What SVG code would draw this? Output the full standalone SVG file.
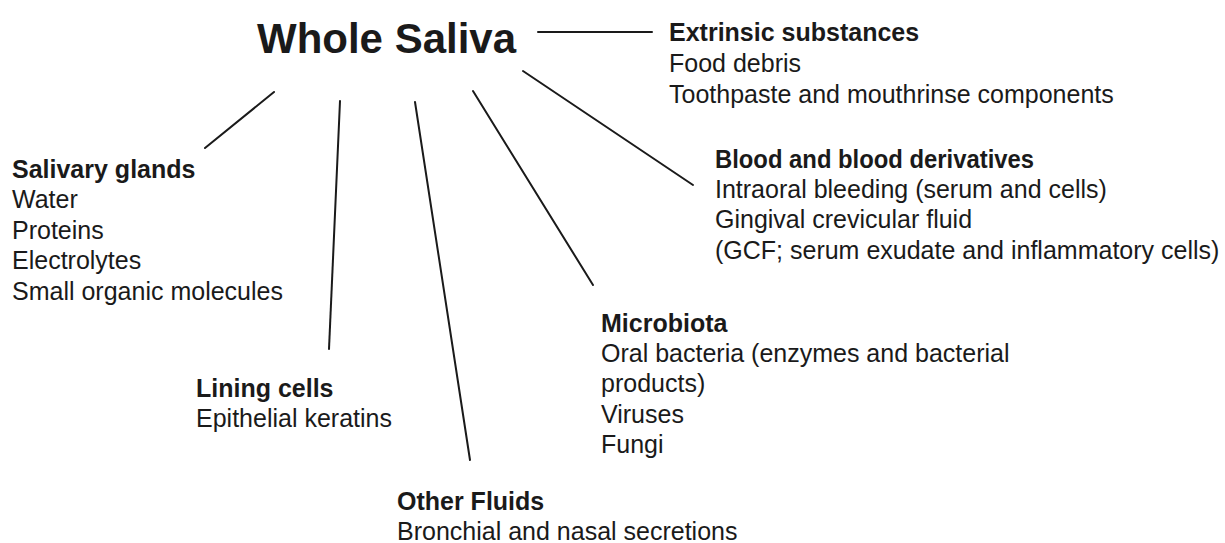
<svg xmlns="http://www.w3.org/2000/svg" width="1225" height="543" viewBox="0 0 1225 543">
<style>
text{font-family:"Liberation Sans",Arial,sans-serif;fill:#1a1a1a;font-size:25px}
.h{font-weight:bold}
.t{font-size:42px;font-weight:bold}
.c line{stroke:#1a1a1a;stroke-width:2;stroke-linecap:round}
</style>
<rect width="1225" height="543" fill="#fff"/>
<g id="whole-saliva"><text class="t" x="257" y="53">Whole Saliva</text></g>
<g class="c" id="connectors">
<line x1="538" y1="32" x2="652" y2="32"/>
<line x1="274" y1="92" x2="205" y2="148"/>
<line x1="340" y1="101" x2="329" y2="349"/>
<line x1="415" y1="102" x2="470" y2="460"/>
<line x1="473" y1="91" x2="593" y2="285"/>
<line x1="523" y1="71" x2="693" y2="185"/>
</g>
<g id="extrinsic">
<text class="h" x="669" y="41">Extrinsic substances</text>
<text x="669" y="72">Food debris</text>
<text x="669" y="103">Toothpaste and mouthrinse components</text>
</g>
<g id="salivary">
<text class="h" x="12" y="178">Salivary glands</text>
<text x="12" y="208">Water</text>
<text x="12" y="239">Proteins</text>
<text x="12" y="269">Electrolytes</text>
<text x="12" y="300">Small organic molecules</text>
</g>
<g id="blood">
<text class="h" x="715" y="168" textLength="319" lengthAdjust="spacingAndGlyphs">Blood and blood derivatives</text>
<text x="715" y="198">Intraoral bleeding (serum and cells)</text>
<text x="715" y="228">Gingival crevicular fluid</text>
<text x="715" y="259">(GCF; serum exudate and inflammatory cells)</text>
</g>
<g id="microbiota">
<text class="h" x="601" y="332">Microbiota</text>
<text x="601" y="362">Oral bacteria (enzymes and bacterial</text>
<text x="601" y="392">products)</text>
<text x="601" y="423">Viruses</text>
<text x="601" y="453">Fungi</text>
</g>
<g id="lining">
<text class="h" x="196" y="397">Lining cells</text>
<text x="196" y="427">Epithelial keratins</text>
</g>
<g id="other-fluids">
<text class="h" x="397" y="510">Other Fluids</text>
<text x="397" y="540">Bronchial and nasal secretions</text>
</g>
</svg>
